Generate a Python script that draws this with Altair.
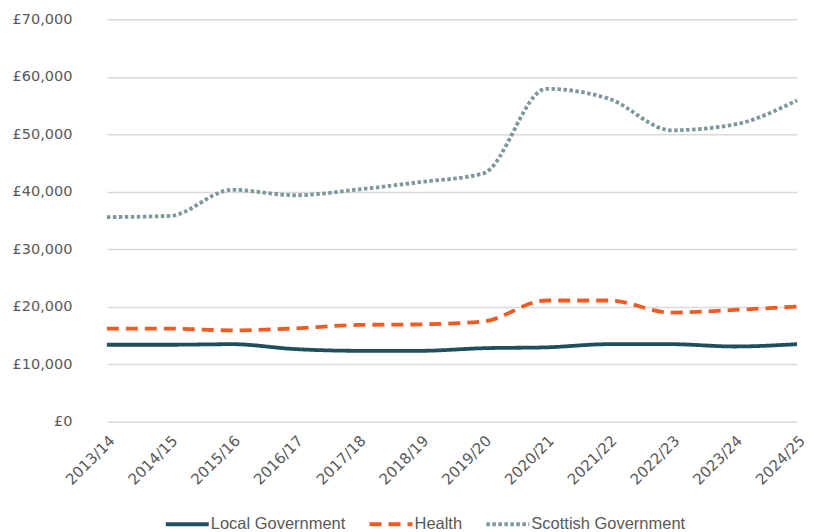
import altair as alt
import pandas as pd

years = ["2013/14", "2014/15", "2015/16", "2016/17", "2017/18", "2018/19",
         "2019/20", "2020/21", "2021/22", "2022/23", "2023/24", "2024/25"]
local_gov = [13400, 13400, 13500, 12650, 12350, 12350, 12800, 12950, 13500, 13500, 13100, 13500]
health = [16200, 16200, 15900, 16250, 16850, 16950, 17450, 21100, 21100, 19000, 19450, 20050]
scottish_gov = [35600, 35800, 40350, 39400, 40400, 41700, 43200, 57900, 56200, 50700, 51700, 55900]

series = ["Local Government", "Health", "Scottish Government"]
colors = ["#1f4e5c", "#f05a23", "#7c989b"]
dashes = [[1, 0], [12, 7], [3.5, 2.5]]

rows = []
for name, vals in zip(series, [local_gov, health, scottish_gov]):
    for y, v in zip(years, vals):
        rows.append({"year": y, "value": v, "series": name})
df = pd.DataFrame(rows)

chart = alt.Chart(df).mark_line(
    interpolate="monotone", strokeWidth=3.8
).encode(
    x=alt.X("year:N", sort=years, title=None,
            scale=alt.Scale(type="point", range=[29, 720], padding=0),
            axis=alt.Axis(labelAngle=-45, ticks=False, domain=False, grid=False,
                          labelPadding=11, labelFont="DejaVu Sans", labelFontSize=15,
                          labelColor="#595959")),
    y=alt.Y("value:Q", title=None,
            scale=alt.Scale(domain=[0, 70000], nice=False),
            axis=alt.Axis(values=list(range(0, 70001, 10000)),
                          labelExpr="'£' + format(datum.value, ',')",
                          ticks=False, tickSize=0, domain=False, labelPadding=6,
                          gridColor="#d9d9d9", gridWidth=1.5,
                          labelFont="DejaVu Sans", labelFontSize=14.5,
                          labelColor="#595959")),
    color=alt.Color("series:N", sort=series,
                    scale=alt.Scale(domain=series, range=colors),
                    legend=alt.Legend(title=None, orient="none", direction="horizontal",
                                      legendX=86, legendY=482,
                                      symbolType="stroke", symbolSize=1849,
                                      symbolStrokeWidth=4, labelOffset=0,
                                      columnPadding=16, labelFont="Liberation Sans",
                                      labelFontSize=16.5, labelColor="#595959")),
    strokeDash=alt.StrokeDash("series:N", sort=series,
                              scale=alt.Scale(domain=series, range=dashes),
                              legend=None),
).properties(
    width=735, height=403,
    autosize=alt.AutoSizeParams(type="none"),
    padding={"left": 70, "top": 11, "right": 0, "bottom": 109},
).configure_view(stroke=None)

chart.save("out.html", embed_options={"renderer": "svg", "actions": False})
